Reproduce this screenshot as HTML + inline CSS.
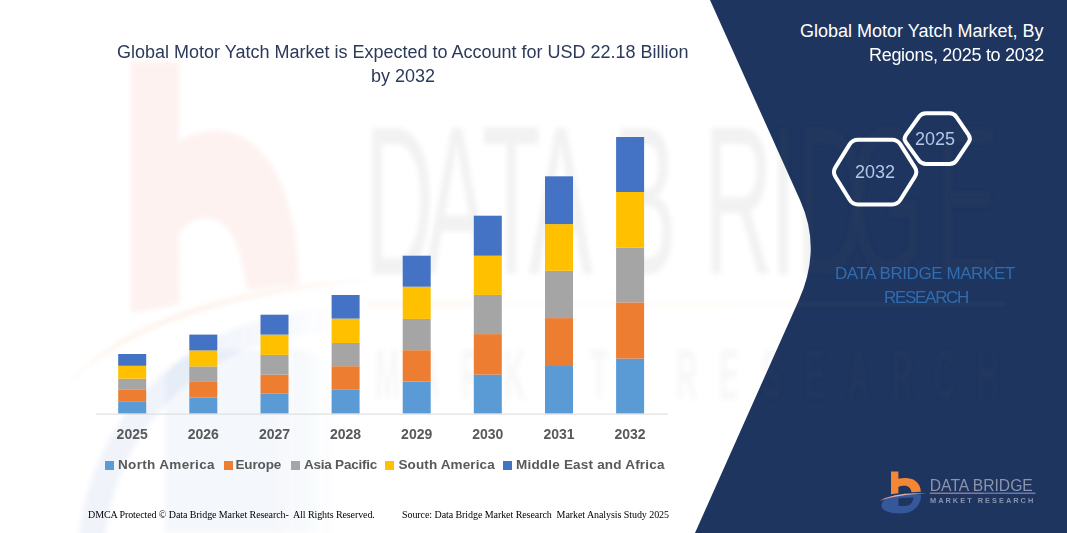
<!DOCTYPE html>
<html><head><meta charset="utf-8">
<style>
html,body{margin:0;padding:0;}
body{width:1067px;height:533px;overflow:hidden;position:relative;background:#fff;font-family:"Liberation Sans",sans-serif;}
.t{position:absolute;white-space:pre;line-height:1;}
svg{position:absolute;left:0;top:0;}
</style></head><body>
<svg width="1067" height="533" viewBox="0 0 1067 533">
<defs>
  <filter id="blur" x="-5%" y="-5%" width="110%" height="110%"><feGaussianBlur stdDeviation="2"/></filter>
  <linearGradient id="sw" x1="0" x2="1" y1="0" y2="0">
    <stop offset="0" stop-color="#E89A80"/><stop offset="0.5" stop-color="#D8B0B0"/><stop offset="1" stop-color="#9FB2D6"/>
  </linearGradient>
  <linearGradient id="ln" x1="0" x2="1" y1="0" y2="0">
    <stop offset="0" stop-color="#B7849A"/><stop offset="0.5" stop-color="#A08CB0"/><stop offset="0.52" stop-color="#6F86B8"/><stop offset="1" stop-color="#7F8FB8"/>
  </linearGradient>
  <linearGradient id="wln" x1="0" x2="1" y1="0" y2="0">
    <stop offset="0" stop-color="#ED7D31"/><stop offset="0.6" stop-color="#D9A080"/><stop offset="1" stop-color="#A0A0A0"/>
  </linearGradient>
  <linearGradient id="ring" gradientUnits="userSpaceOnUse" x1="80" y1="0" x2="340" y2="0">
    <stop offset="0" stop-color="#4472C4"/><stop offset="0.5" stop-color="#4472C4"/><stop offset="1" stop-color="#4472C4" stop-opacity="0"/>
  </linearGradient>
  <linearGradient id="ring2" gradientUnits="userSpaceOnUse" x1="165" y1="0" x2="340" y2="0">
    <stop offset="0" stop-color="#4472C4"/><stop offset="0.6" stop-color="#4472C4"/><stop offset="1" stop-color="#4472C4" stop-opacity="0"/>
  </linearGradient>
  <g id="ib">
    <path d="M11,1.5 L18.4,1.5 L18.4,8.8 C24,7.5 31,7.5 35.5,11 C39,13.8 40.8,17.5 40.8,21.8 L31.5,22.2 C31,18.5 28.5,15.8 24.5,15.8 C21.8,15.8 19.6,16.3 18.4,17 L18.4,23.3 L11,24.3 Z" fill="#F58634"/>
  </g>
  <g id="isw">
    <path d="M-0.5,31 Q16,21.5 47,23.8 Q16,24.5 -0.5,31 Z" fill="url(#sw)"/>
  </g>
  <g id="icon">
    <use href="#ib"/>
    <path fill-rule="evenodd" d="M1.5,35 C2.5,29 10,25.5 20,25 L41,24.5 C41.5,33 36,41 26,43 C15,44.5 0.5,42 1.5,35 Z M18.5,28 L33.4,27.5 C33,32 30.5,36 25,36 L18.5,36 Z" fill="#34589A"/>
    <use href="#isw"/>
  </g>
  <g id="logo">
    <use href="#icon"/>
    <text x="49.8" y="20.5" font-family="Liberation Sans" font-size="17" textLength="103" lengthAdjust="spacingAndGlyphs" fill="#8C93AD">DATA BRIDGE</text>
    <rect x="49.8" y="22.6" width="105.7" height="1.2" fill="url(#ln)"/>
    <text x="50" y="32.9" font-family="Liberation Sans" font-weight="bold" font-size="7.4" textLength="103.3" lengthAdjust="spacing" fill="#8C93AD">MARKET  RESEARCH</text>
  </g>
</defs>
  <!-- navy panel -->
  <path d="M710,0 L1067,0 L1067,533 L695,533 L798.9,300 Q822,248.5 800,200 Z" fill="#1E355F"/>
  <g id="wm" filter="url(#blur)">
    <path fill-rule="evenodd" d="M78,560 A253,250 0 0 1 584,560 A253,250 0 0 1 78,560 Z M104,560 A227,227 0 0 1 558,560 A227,227 0 0 1 104,560 Z" fill="url(#ring)" opacity="0.08"/>
    <path d="M165,533 L165,380 Q170,352 230,350 L300,350 Q330,352 330,400 L330,533 Z" fill="url(#ring2)" opacity="0.06"/>
    <path d="M68,384 Q150,290 370,280 Q150,302 68,384 Z" fill="#ED7D31" opacity="0.09"/>
    <g transform="matrix(5.5,0,0,11.06,76,47.6)"><path d="M10,1.3 L18.7,1.3 L18.7,8.5 C24,6.8 32,7 36.5,11.5 C39.5,14.5 40.5,18 40.5,21.4 L31,21.9 C30.5,18.5 28,15.4 24,15.4 C21.5,15.4 19.8,16 18.7,16.8 L18.7,23.2 L10,24 Z" fill="#E8583C" opacity="0.08"/></g>
    <g fill="#5A5A5A" fill-opacity="0.08" font-family="Liberation Sans" font-size="212"><text transform="translate(365,0) scale(0.45,1)" x="0" y="274">D</text><text transform="translate(425,0) scale(0.45,1)" x="0" y="274">A</text><text transform="translate(482,0) scale(0.45,1)" x="0" y="274">T</text><text transform="translate(529,0) scale(0.45,1)" x="0" y="274">A</text><text transform="translate(613,0) scale(0.45,1)" x="0" y="274">B</text><text transform="translate(704,0) scale(0.45,1)" x="0" y="274">R</text><text transform="translate(770,0) scale(0.45,1)" x="0" y="274">I</text><text transform="translate(796,0) scale(0.45,1)" x="0" y="274">D</text><text transform="translate(850,0) scale(0.45,1)" x="0" y="274">G</text><text transform="translate(935,0) scale(0.45,1)" x="0" y="274">E</text></g>
    <rect x="367" y="302.5" width="640" height="3" fill="url(#wln)" opacity="0.07"/>
    <g transform="scale(0.42,1)"><text x="892.9 995.2 1097.6 1200.0 1302.4 1404.8 1507.1 1609.5 1711.9 1814.3 1916.7 2019.0 2121.4 2223.8 2326.2" y="399" font-family="Liberation Sans" font-weight="bold" font-size="70" fill="#5A5A5A" fill-opacity="0.05">MARKET RESEARCH</text></g>
  </g>
  <use href="#logo" transform="translate(880,470)"/>
  <!-- axis -->
  <rect x="96" y="413.6" width="572" height="1" fill="#D9D9D9"/>
  <g id="bars">
  <rect x="118.2" y="401.8" width="28" height="11.6" fill="#5B9BD5"/>
  <rect x="118.2" y="389.8" width="28" height="12.0" fill="#ED7D31"/>
  <rect x="118.2" y="378.7" width="28" height="11.1" fill="#A5A5A5"/>
  <rect x="118.2" y="365.8" width="28" height="12.9" fill="#FFC000"/>
  <rect x="118.2" y="354.0" width="28" height="11.8" fill="#4472C4"/>
  <rect x="189.3" y="397.5" width="28" height="15.9" fill="#5B9BD5"/>
  <rect x="189.3" y="381.9" width="28" height="15.6" fill="#ED7D31"/>
  <rect x="189.3" y="366.5" width="28" height="15.4" fill="#A5A5A5"/>
  <rect x="189.3" y="350.4" width="28" height="16.1" fill="#FFC000"/>
  <rect x="189.3" y="334.6" width="28" height="15.8" fill="#4472C4"/>
  <rect x="260.5" y="393.7" width="28" height="19.7" fill="#5B9BD5"/>
  <rect x="260.5" y="374.6" width="28" height="19.1" fill="#ED7D31"/>
  <rect x="260.5" y="354.9" width="28" height="19.7" fill="#A5A5A5"/>
  <rect x="260.5" y="334.6" width="28" height="20.3" fill="#FFC000"/>
  <rect x="260.5" y="314.7" width="28" height="19.9" fill="#4472C4"/>
  <rect x="331.6" y="389.8" width="28" height="23.6" fill="#5B9BD5"/>
  <rect x="331.6" y="366.2" width="28" height="23.6" fill="#ED7D31"/>
  <rect x="331.6" y="343.0" width="28" height="23.2" fill="#A5A5A5"/>
  <rect x="331.6" y="318.6" width="28" height="24.4" fill="#FFC000"/>
  <rect x="331.6" y="295.0" width="28" height="23.6" fill="#4472C4"/>
  <rect x="402.7" y="381.6" width="28" height="31.8" fill="#5B9BD5"/>
  <rect x="402.7" y="350.2" width="28" height="31.4" fill="#ED7D31"/>
  <rect x="402.7" y="318.9" width="28" height="31.3" fill="#A5A5A5"/>
  <rect x="402.7" y="286.7" width="28" height="32.2" fill="#FFC000"/>
  <rect x="402.7" y="255.7" width="28" height="31.0" fill="#4472C4"/>
  <rect x="473.8" y="374.6" width="28" height="38.8" fill="#5B9BD5"/>
  <rect x="473.8" y="334.1" width="28" height="40.5" fill="#ED7D31"/>
  <rect x="473.8" y="294.9" width="28" height="39.2" fill="#A5A5A5"/>
  <rect x="473.8" y="255.7" width="28" height="39.2" fill="#FFC000"/>
  <rect x="473.8" y="215.7" width="28" height="40.0" fill="#4472C4"/>
  <rect x="545.0" y="366.0" width="28" height="47.4" fill="#5B9BD5"/>
  <rect x="545.0" y="318.1" width="28" height="47.9" fill="#ED7D31"/>
  <rect x="545.0" y="270.8" width="28" height="47.3" fill="#A5A5A5"/>
  <rect x="545.0" y="224.1" width="28" height="46.7" fill="#FFC000"/>
  <rect x="545.0" y="176.3" width="28" height="47.8" fill="#4472C4"/>
  <rect x="616.1" y="358.6" width="28" height="54.8" fill="#5B9BD5"/>
  <rect x="616.1" y="302.4" width="28" height="56.2" fill="#ED7D31"/>
  <rect x="616.1" y="247.8" width="28" height="54.6" fill="#A5A5A5"/>
  <rect x="616.1" y="192.0" width="28" height="55.8" fill="#FFC000"/>
  <rect x="616.1" y="137.0" width="28" height="55.0" fill="#4472C4"/>
  </g>
  <!-- hexagons -->
  <path d="M849.61,144.38 Q852.50,139.70 858.00,139.70 L892.00,139.70 Q897.50,139.70 900.42,144.36 L914.88,167.39 Q917.80,172.05 914.88,176.71 L900.42,199.74 Q897.50,204.40 892.00,204.40 L858.00,204.40 Q852.50,204.40 849.61,199.72 L835.39,176.73 Q832.50,172.05 835.39,167.37 Z" fill="none" stroke="#fff" stroke-width="4" stroke-linejoin="round"/>
  <path d="M918.88,116.96 Q921.50,113.30 926.00,113.30 L949.50,113.30 Q954.00,113.30 956.51,117.03 L968.59,134.97 Q971.10,138.70 968.59,142.43 L956.51,160.37 Q954.00,164.10 949.50,164.10 L926.00,164.10 Q921.50,164.10 918.88,160.44 L905.92,142.36 Q903.30,138.70 905.92,135.04 Z" fill="none" stroke="#fff" stroke-width="4" stroke-linejoin="round"/>
</svg>

<div class="t" style="left:117px;top:43px;font-size:18px;color:#2C3A5A;">Global Motor Yatch Market is Expected to Account for USD 22.18 Billion</div>
<div class="t" style="left:371px;top:67px;font-size:18px;color:#2C3A5A;">by 2032</div>

<div class="t" style="left:800px;top:22px;font-size:18px;color:#fff;">Global Motor Yatch Market, By</div>
<div class="t" style="left:869px;top:46px;font-size:18px;color:#fff;letter-spacing:-0.3px;">Regions, 2025 to 2032</div>

<div class="t" style="left:855px;top:163px;font-size:18px;color:#B4C7E7;">2032</div>
<div class="t" style="left:915px;top:130px;font-size:18px;color:#B4C7E7;">2025</div>

<div class="t" style="left:835px;top:265px;font-size:17px;color:#2F6DB0;letter-spacing:-0.42px;">DATA BRIDGE MARKET</div>
<div class="t" style="left:884px;top:289px;font-size:17px;color:#2F6DB0;letter-spacing:-1.3px;">RESEARCH</div>

<div class="t" style="left:92.2px;width:80px;text-align:center;top:427px;font-size:14px;font-weight:bold;color:#595959;">2025</div>
<div class="t" style="left:163.3px;width:80px;text-align:center;top:427px;font-size:14px;font-weight:bold;color:#595959;">2026</div>
<div class="t" style="left:234.5px;width:80px;text-align:center;top:427px;font-size:14px;font-weight:bold;color:#595959;">2027</div>
<div class="t" style="left:305.6px;width:80px;text-align:center;top:427px;font-size:14px;font-weight:bold;color:#595959;">2028</div>
<div class="t" style="left:376.7px;width:80px;text-align:center;top:427px;font-size:14px;font-weight:bold;color:#595959;">2029</div>
<div class="t" style="left:447.8px;width:80px;text-align:center;top:427px;font-size:14px;font-weight:bold;color:#595959;">2030</div>
<div class="t" style="left:519.0px;width:80px;text-align:center;top:427px;font-size:14px;font-weight:bold;color:#595959;">2031</div>
<div class="t" style="left:590.1px;width:80px;text-align:center;top:427px;font-size:14px;font-weight:bold;color:#595959;">2032</div>
<div style="position:absolute;left:105px;top:461px;width:9px;height:9px;background:#5B9BD5"></div>
<div class="t" style="left:118px;top:458px;font-size:13.5px;font-weight:bold;color:#595959;letter-spacing:0.33px;">North America</div>
<div style="position:absolute;left:223.5px;top:461px;width:9px;height:9px;background:#ED7D31"></div>
<div class="t" style="left:235.5px;top:458px;font-size:13.5px;font-weight:bold;color:#595959;letter-spacing:-0.14px;">Europe</div>
<div style="position:absolute;left:290.5px;top:461px;width:9px;height:9px;background:#A5A5A5"></div>
<div class="t" style="left:304px;top:458px;font-size:13.5px;font-weight:bold;color:#595959;letter-spacing:-0.23px;">Asia Pacific</div>
<div style="position:absolute;left:385px;top:461px;width:9px;height:9px;background:#FFC000"></div>
<div class="t" style="left:398.5px;top:458px;font-size:13.5px;font-weight:bold;color:#595959;letter-spacing:0.12px;">South America</div>
<div style="position:absolute;left:503px;top:461px;width:9px;height:9px;background:#4472C4"></div>
<div class="t" style="left:516px;top:458px;font-size:13.5px;font-weight:bold;color:#595959;letter-spacing:0.20px;">Middle East and Africa</div>
<div class="t" style="left:88px;top:510px;font-family:'Liberation Serif',serif;font-size:10px;letter-spacing:-0.09px;color:#000;">DMCA Protected © Data Bridge Market Research-  All Rights Reserved.</div>
<div class="t" style="left:402px;top:510px;font-family:'Liberation Serif',serif;font-size:10px;letter-spacing:-0.07px;color:#000;">Source: Data Bridge Market Research  Market Analysis Study 2025</div>
</body></html>
